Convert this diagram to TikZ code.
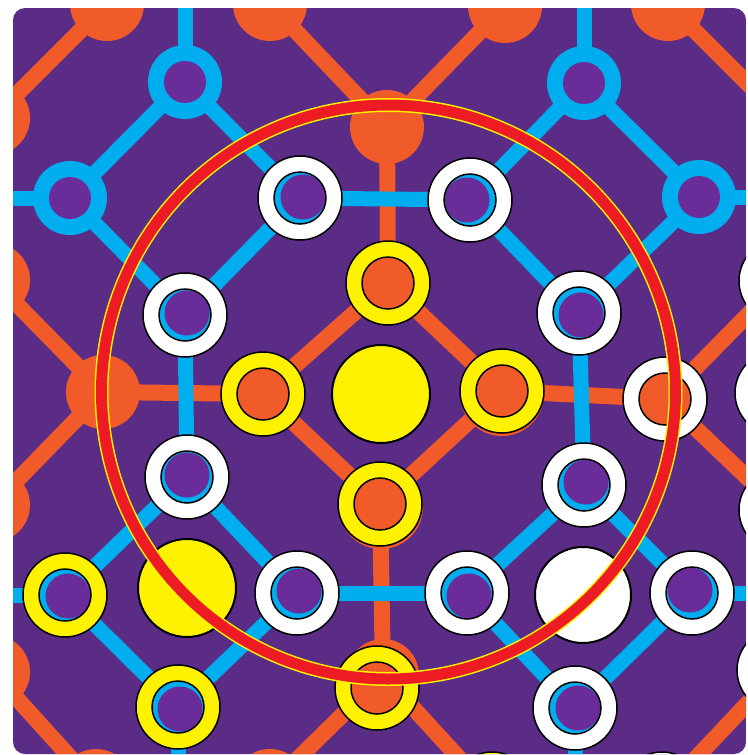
\documentclass[tikz,border=0pt]{standalone}
\definecolor{corange}{HTML}{F15A29}
\definecolor{cblue}{HTML}{00AEEF}
\definecolor{cyellow}{HTML}{FFF200}
\definecolor{cred}{HTML}{ED1C24}
\definecolor{cbg}{HTML}{5B2C86}
\definecolor{cin}{HTML}{6A2C99}
\newcommand\BlueRingAt[1]{\fill[cblue] (#1) circle (37pt); \fill[cin] (#1) circle (21pt);}
\newcommand\HoleRingAt[4]{%
  \filldraw[fill=#2, outl] (#1) circle (42pt);
  \fill[cblue] (#1) circle (26pt);
  \fill[cin] ([shift={(#3,#4)}]#1) circle (22.5pt);
  \draw[outl] (#1) circle (26pt);}
\newcommand\OrRingAt[2]{%
  \filldraw[fill=#2, outl] (#1) circle (42pt);
  \filldraw[fill=corange, outl] (#1) circle (26pt);}
\begin{document}
\begin{tikzpicture}[x=1pt,y=-1pt,
  oline/.style={corange,line width=16pt},
  bline/.style={cblue,line width=15pt},
  outl/.style={draw=black,line width=1.5pt}]
\useasboundingbox (0,0) rectangle (747,755);
\fill[white] (0,0) rectangle (747,755);
\begin{scope}
\clip[rounded corners=12pt] (13,8) rectangle (746,754);
\fill[cbg] (0,0) rectangle (747,755);
% ---------- orange lattice positions
\coordinate (oT) at (387,127);
\coordinate (oN) at (388,283);
\coordinate (oW) at (263,394);
\coordinate (oE) at (502,391);
\coordinate (oEd) at (502,394);
\coordinate (oS) at (380,504);
\coordinate (oSd) at (381,507);
\coordinate (oC) at (381,394);
\coordinate (oL) at (103,392);
\coordinate (oR) at (665,399);
\coordinate (oB) at (377,688);
\coordinate (oBd) at (383,675);
\coordinate (t1) at (107,4);
\coordinate (t2) at (270,4);
\coordinate (t3) at (505,6);
\coordinate (t4) at (668,4);
\coordinate (l1) at (-7,118);
\coordinate (l2) at (-7,280);
\coordinate (l3) at (-7,505);
\coordinate (l4) at (-7,672);
\coordinate (b1) at (96,786);
\coordinate (b2) at (270,786);
\coordinate (b3) at (492,794);
\coordinate (b4) at (662,794);
\coordinate (r1) at (781,281);
\coordinate (r2) at (777,393);
\coordinate (r3) at (781,510);
\coordinate (r4) at (779,670);
\coordinate (rOff) at (790,126);
% ---------- blue lattice positions
\coordinate (u1) at (185,82);
\coordinate (u2) at (70,198);
\coordinate (u3) at (300,198);
\coordinate (u4) at (185,315);
\coordinate (v1) at (584,83);
\coordinate (v2) at (470,200);
\coordinate (v3) at (699,197);
\coordinate (v4) at (579,313);
\coordinate (w1) at (187,477);
\coordinate (w2) at (65,595);
\coordinate (w3) at (297,593);
\coordinate (w4) at (178,707);
\coordinate (wC) at (187,588);
\coordinate (x1) at (584,485);
\coordinate (x2) at (467,593);
\coordinate (x3) at (692,593);
\coordinate (x4) at (575,708);
\coordinate (xC) at (583,595);
\coordinate (u1o) at (185,-50);
\coordinate (v1o) at (584,-50);
\coordinate (u2o) at (-50,198);
\coordinate (v3o) at (800,197);
\coordinate (w2o) at (-50,595);
\coordinate (x3o) at (800,593);
\coordinate (w4o) at (178,805);
\coordinate (x4o) at (575,805);
% ---------- orange connectors
\draw[oline] (t1) -- (l1);
\draw[oline] (l2) -- (oL) -- (l3);
\draw[oline] (l4) -- (b1);
\draw[oline] (t2) -- (oT) -- (t3);
\draw[oline] (t4) -- (rOff);
\draw[oline] (oT) -- (oN);
\draw[oline] (oN) -- (oW) -- (oS) -- (oE) -- cycle;
\draw[oline] (oW) -- (oL);
\draw[oline] (oE) -- (oR);
\draw[oline] (oS) -- (oBd);
\draw[oline] (b2) -- (oBd) -- (b3);
\draw[oline] (r1) -- (oR) -- (r3);
\draw[oline] (r4) -- (b4);
% ---------- orange disks
\foreach \p in {t1,t2,t3,t4,l1,l2,l3,l4,b1,b2,oL} {\fill[corange] (\p) circle (37pt);}
\fill[corange] (oT) circle (37pt);
\fill[corange] (oBd) circle (36pt);
\fill[corange] (oEd) circle (42pt);
\fill[corange] (oSd) circle (42pt);
% ---------- blue connectors
\draw[bline] (u1) -- (u2) -- (u4) -- (u3) -- cycle;
\draw[bline] (v1) -- (v2) -- (v4) -- (v3) -- cycle;
\draw[bline] (w1) -- (w2) -- (w4) -- (w3) -- cycle;
\draw[bline] (x1) -- (x2) -- (x4) -- (x3) -- cycle;
\draw[bline] (u3) -- (v2);
\draw[bline] (u4) -- (w1);
\draw[bline] (v4) -- (x1);
\draw[bline] (w3) -- (x2);
\draw[bline] (u1) -- (u1o);
\draw[bline] (v1) -- (v1o);
\draw[bline] (u2) -- (u2o);
\draw[bline] (v3) -- (v3o);
\draw[bline] (w2) -- (w2o);
\draw[bline] (x3) -- (x3o);
\draw[bline] (w4) -- (w4o);
\draw[bline] (x4) -- (x4o);
% ---------- blue rings
\BlueRingAt{u1}
\BlueRingAt{u2}
\BlueRingAt{v1}
\BlueRingAt{v3}
% ---------- white / yellow rings with blue centres
\HoleRingAt{u3}{white}{3}{-1}
\HoleRingAt{u4}{white}{2}{-2}
\HoleRingAt{v2}{white}{-3}{0}
\HoleRingAt{v4}{white}{2}{2}
\HoleRingAt{w1}{white}{0}{-2}
\HoleRingAt{w2}{cyellow}{3}{1}
\HoleRingAt{w3}{white}{2}{-2}
\HoleRingAt{w4}{cyellow}{2}{2}
\HoleRingAt{x1}{white}{2}{-3}
\HoleRingAt{x2}{white}{2}{3}
\HoleRingAt{x3}{white}{-2}{-3}
\HoleRingAt{x4}{white}{3}{0}
% ---------- rings with orange centres
\OrRingAt{oN}{cyellow}
\OrRingAt{oW}{cyellow}
\OrRingAt{oE}{cyellow}
\OrRingAt{oS}{cyellow}
\OrRingAt{oB}{cyellow}
\OrRingAt{oR}{white}
\OrRingAt{b3}{cyellow}
\OrRingAt{b4}{white}
\foreach \p in {r1,r2,r3,r4} {\filldraw[fill=white, outl] (\p) circle (42pt);}
% ---------- big centre disks
\filldraw[fill=cyellow, draw=black, line width=2pt] (oC) circle (49pt);
\filldraw[fill=cyellow, draw=black, line width=2pt] (wC) circle (49pt);
\filldraw[fill=white, draw=black, line width=2pt] (xC) circle (48pt);
% ---------- red circle
\coordinate (rc) at (388.5,392);
\draw[cyellow, line width=14pt] (rc) circle (287pt);
\draw[cred, line width=11pt] (rc) circle (287pt);
\end{scope}
\end{tikzpicture}
\end{document}
